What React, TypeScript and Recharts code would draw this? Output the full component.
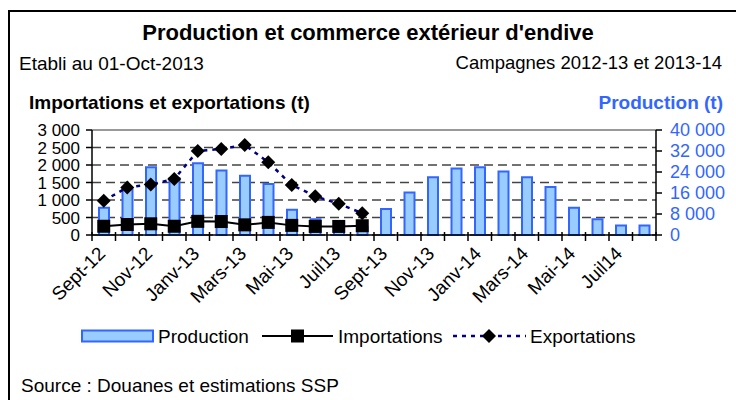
import React from 'react';
import {
  ComposedChart,
  Bar,
  Line,
  XAxis,
  YAxis,
  CartesianGrid,
  ReferenceLine,
} from 'recharts';

const months = [
  'Sept-12', 'Oct-12', 'Nov-12', 'Déc-12', 'Janv-13', 'Févr-13', 'Mars-13', 'Avr-13',
  'Mai-13', 'Juin-13', 'Juil13', 'Août-13', 'Sept-13', 'Oct-13', 'Nov-13', 'Déc-13',
  'Janv-14', 'Févr-14', 'Mars-14', 'Avr-14', 'Mai-14', 'Juin-14', 'Juil14', 'Août-14',
];

const production = [
  10400, 17400, 25800, 21600, 27300, 24600, 22600, 19400, 9600, 6000, 3500, 3000,
  9900, 16200, 22000, 25300, 25800, 24200, 22000, 18300, 10400, 6000, 3600, 3600,
];

const importations = [250, 300, 320, 250, 390, 385, 290, 360, 275, 245, 245, 265];

const exportations = [980, 1360, 1440, 1600, 2400, 2460, 2570, 2080, 1430, 1110, 890, 625];

const leftTicks = [0, 500, 1000, 1500, 2000, 2500, 3000];
const rightTicks = [0, 8000, 16000, 24000, 32000, 40000];

const data = months.map((m, i) => ({
  month: m,
  production: production[i],
  importations: i < importations.length ? importations[i] : null,
  exportations: i < exportations.length ? exportations[i] : null,
}));

const FONT = '"Liberation Sans", Arial, sans-serif';
const BLUE = '#3366FF';
const BAR_FILL = '#99CCFF';
const NAVY = '#000080';

const fmt = (v: number) => String(v).replace(/\B(?=(\d{3})+(?!\d))/g, ' ');

const MonthTick = (props: any) => {
  const { x, y, payload, index } = props;
  const half = payload && payload.offset ? payload.offset : 11.75;
  const last = index === months.length - 1;
  const ax = x - 2;
  const ay = y + 15;
  return (
    <g>
      <line x1={x - half} x2={x - half} y1={y - 3} y2={y + 6} stroke="#000" strokeWidth={1.5} />
      {last && <line x1={x + half} x2={x + half} y1={y - 3} y2={y + 6} stroke="#000" strokeWidth={1.5} />}
      {index % 2 === 0 && (
        <text
          x={ax}
          y={ay}
          transform={`rotate(-45, ${ax}, ${ay})`}
          textAnchor="end"
          dy="0.35em"
          fontSize={19}
          fontFamily={FONT}
          fill="#000"
        >
          {payload.value}
        </text>
      )}
    </g>
  );
};

const SquareDot = (p: any) => {
  if (p.cy == null || p.value == null) return null;
  return <rect key={`sq-${p.index}`} x={p.cx - 6.5} y={p.cy - 6.5} width={13} height={13} fill="#000" />;
};

const DiamondDot = (p: any) => {
  if (p.cy == null || p.value == null) return null;
  const r = 7;
  return (
    <polygon
      key={`dm-${p.index}`}
      points={`${p.cx},${p.cy - r} ${p.cx + r},${p.cy} ${p.cx},${p.cy + r} ${p.cx - r},${p.cy}`}
      fill="#000"
    />
  );
};

const text = (extra: React.CSSProperties): React.CSSProperties => ({
  position: 'absolute',
  fontFamily: FONT,
  whiteSpace: 'nowrap',
  lineHeight: 1,
  ...extra,
});

export default function App() {
  return (
    <div
      style={{
        position: 'absolute',
        left: 0,
        top: 0,
        width: 736,
        height: 400,
        overflow: 'hidden',
        background: '#fff',
        fontFamily: FONT,
      }}
    >
      <div
        style={{
          position: 'absolute',
          left: 8,
          top: 10,
          width: 760,
          height: 420,
          borderLeft: '2px solid #000',
          borderTop: '2px solid #000',
        }}
      />
      <div style={text({ left: 0, width: 736, top: 22, textAlign: 'center', fontSize: 22, fontWeight: 'bold' })}>
        Production et commerce extérieur d'endive
      </div>
      <div style={text({ left: 19, top: 54, fontSize: 19 })}>Etabli au 01-Oct-2013</div>
      <div style={text({ right: 14, top: 54, fontSize: 18.5 })}>Campagnes 2012-13 et 2013-14</div>
      <div style={text({ left: 29, top: 93, fontSize: 19, fontWeight: 'bold' })}>
        Importations et exportations (t)
      </div>
      <div style={text({ right: 13, top: 93, fontSize: 19, fontWeight: 'bold', color: BLUE })}>
        Production (t)
      </div>

      <div style={{ position: 'absolute', left: 0, top: 0 }}>
        <ComposedChart
          width={736}
          height={400}
          data={data}
          margin={{ top: 130, right: 10, bottom: 105, left: 32 }}
        >
          <CartesianGrid
            yAxisId="left"
            vertical={false}
            stroke="#444"
            strokeDasharray="9 5"
            strokeWidth={1.5}
          />
          <ReferenceLine yAxisId="left" y={3000} stroke="#999" strokeWidth={2} />
          <XAxis
            dataKey="month"
            interval={0}
            tickSize={0}
            tickMargin={0}
            tickLine={false}
            tick={<MonthTick />}
            height={60}
            axisLine={{ stroke: '#000', strokeWidth: 1.5 }}
          />
          <YAxis
            yAxisId="left"
            domain={[0, 3000]}
            ticks={leftTicks}
            interval={0}
            width={60}
            tickFormatter={fmt}
            tickSize={6}
            tickMargin={6}
            tick={{ fill: '#000', fontSize: 17, fontFamily: FONT }}
            tickLine={{ stroke: '#000', strokeWidth: 1.5 }}
            axisLine={{ stroke: '#000', strokeWidth: 1.5 }}
          />
          <YAxis
            yAxisId="right"
            orientation="right"
            domain={[0, 40000]}
            ticks={rightTicks}
            interval={0}
            width={70}
            tickFormatter={fmt}
            tickSize={6}
            tickMargin={8}
            tick={{ fill: BLUE, fontSize: 18, fontFamily: FONT }}
            tickLine={{ stroke: '#000', strokeWidth: 1.5 }}
            axisLine={{ stroke: '#000', strokeWidth: 1.5 }}
          />
          <Bar
            yAxisId="right"
            dataKey="production"
            barSize={10}
            fill={BAR_FILL}
            stroke={BLUE}
            strokeWidth={2}
            isAnimationActive={false}
          />
          <Line
            yAxisId="left"
            type="linear"
            dataKey="importations"
            stroke="#000"
            strokeWidth={2}
            dot={<SquareDot />}
            activeDot={false}
            isAnimationActive={false}
          />
          <Line
            yAxisId="left"
            type="linear"
            dataKey="exportations"
            stroke={NAVY}
            strokeWidth={2.5}
            strokeDasharray="4 5"
            dot={<DiamondDot />}
            activeDot={false}
            isAnimationActive={false}
          />
        </ComposedChart>
      </div>

      <svg style={{ position: 'absolute', left: 0, top: 322 }} width={736} height={30}>
        <rect x={82} y={8.5} width={71} height={11} fill={BAR_FILL} stroke={BLUE} strokeWidth={2} />
        <text x={158} y={14} dy="0.35em" fontSize={19} fontFamily={FONT}>Production</text>
        <line x1={262} x2={333} y1={14} y2={14} stroke="#000" strokeWidth={2} />
        <rect x={291} y={7.5} width={13} height={13} fill="#000" />
        <text x={338} y={14} dy="0.35em" fontSize={19} fontFamily={FONT}>Importations</text>
        <line x1={453} x2={526} y1={14} y2={14} stroke={NAVY} strokeWidth={2.5} strokeDasharray="4 5" />
        <polygon points="489,7 496,14 489,21 482,14" fill="#000" />
        <text x={530} y={14} dy="0.35em" fontSize={19} fontFamily={FONT}>Exportations</text>
      </svg>

      <div style={text({ left: 21, top: 376, fontSize: 19 })}>Source : Douanes et estimations SSP</div>
    </div>
  );
}
